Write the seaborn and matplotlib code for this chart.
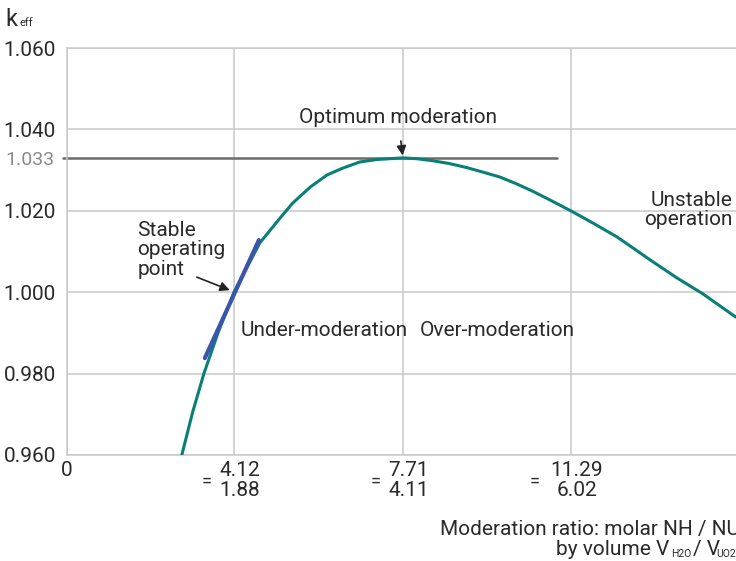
import numpy as np
import pandas as pd
import matplotlib
matplotlib.use('Agg')
import matplotlib.pyplot as plt
import matplotlib.transforms as mtransforms
import seaborn as sns

# k_eff curve (moderation ratio, molar NH/NU)
ratio = [3.01, 3.24, 3.48, 3.78, 4.12, 4.67, 5.10, 5.37, 5.74, 6.10, 6.44, 6.80,
         7.16, 7.71, 8.01, 8.35, 8.71, 9.08, 9.42, 9.78, 10.14, 10.48, 10.84,
         11.29, 11.76, 12.27, 12.61, 12.97, 13.55, 14.10, 14.80]
keff = [0.960, 0.9705, 0.980, 0.9900, 1.000, 1.0121, 1.0182, 1.0219, 1.0258, 1.0288,
        1.0305, 1.0320, 1.0326, 1.0330, 1.0328, 1.0323, 1.0316, 1.0306, 1.0295,
        1.0283, 1.0266, 1.0248, 1.0227, 1.0200, 1.0170, 1.0136, 1.0109, 1.0080,
        1.0035, 0.9996, 0.9939]

# tangent at the stable operating point
tan_x = [3.50, 4.65]
tan_y = [0.9838, 1.0128]

k_opt = 1.033
x_ticks = [4.12, 7.71, 11.29]
x_vol = ['1.88', '4.11', '6.02']
y_ticks = [0.960, 0.980, 1.000, 1.020, 1.040, 1.060]

curve = pd.DataFrame({'ratio': ratio, 'keff': keff})
tangent = pd.DataFrame({'ratio': tan_x, 'keff': tan_y})

sns.set_theme(style='whitegrid')
plt.rcParams['font.family'] = ['Roboto', 'DejaVu Sans']
txt = '#2a2a2a'
grid_c = '#c9c9c9'
fs = 15

fig = plt.figure(figsize=(7.36, 5.61), dpi=100)
ax = fig.add_axes([67 / 736, 1 - 455 / 561, 672 / 736, 407 / 561])

sns.lineplot(curve, x='ratio', y='keff', ax=ax, color='#0a7f78', linewidth=2.2,
             sort=False, zorder=3)
sns.lineplot(tangent, x='ratio', y='keff', ax=ax, color='#3b55a8', linewidth=3,
             zorder=4)
ax.plot([0.48, 11.0], [k_opt, k_opt], color='#6b6b6b', linewidth=1.8,
        clip_on=False, zorder=2)

ax.set_xlim(0.566, 14.87)
ax.set_ylim(0.960, 1.060)
ax.set_xticks([0.566] + x_ticks)
ax.set_xticklabels(['0'] + [f'{a:.2f}\n{b}' for a, b in zip(x_ticks, x_vol)])
ax.set_yticks(y_ticks)
ax.set_yticklabels([f'{v:.3f}' for v in y_ticks])
ax.set_yticks([k_opt], minor=True)
ax.set_yticklabels([f'{k_opt:.3f}'], minor=True)
ax.tick_params(axis='y', which='major', length=0, pad=8, labelsize=fs, labelcolor=txt)
ax.tick_params(axis='y', which='minor', length=0, pad=9, labelsize=14, labelcolor='#8a8a8a')
ax.tick_params(axis='x', length=0, pad=4, labelsize=fs, labelcolor=txt)
shift = mtransforms.ScaledTranslation(6 / 100, 0, fig.dpi_scale_trans)
for lab in ax.get_xticklabels()[1:]:
    lab.set_transform(lab.get_transform() + shift)
    lab.set_linespacing(1.1)
ax.grid(True, which='major', color=grid_c, linewidth=1.1)
ax.grid(False, which='minor')
for s in ax.spines.values():
    s.set_color(grid_c)
    s.set_linewidth(1.1)
ax.set_xlabel('')
ax.set_ylabel('')

for xt in x_ticks:
    ax.annotate('=', xy=(xt, 0), xycoords=('data', 'axes fraction'),
                xytext=(-27 if xt < 10 else -36, -27), textcoords='offset pixels',
                ha='center', va='center', fontsize=13, color=txt)

ax.annotate('Optimum moderation', xy=(7.71, 1.0336), xytext=(7.61, 1.043),
            ha='center', va='center', fontsize=fs, color=txt,
            arrowprops=dict(arrowstyle='-|>', color='#222222', lw=1.2,
                            shrinkA=8, shrinkB=0, mutation_scale=14))
ax.annotate('', xy=(4.03, 1.0005), xytext=(3.33, 1.0037),
            arrowprops=dict(arrowstyle='-|>', color='#222222', lw=1.2,
                            shrinkA=0, shrinkB=0, mutation_scale=14))
ax.text(2.06, 1.0104, 'Stable\noperating\npoint', ha='left', va='center',
        fontsize=fs, color=txt, linespacing=1.05)
ax.text(4.27, 0.9907, 'Under-moderation', ha='left', va='center', fontsize=fs, color=txt)
ax.text(8.08, 0.9907, 'Over-moderation', ha='left', va='center', fontsize=fs, color=txt)
ax.text(14.74, 1.0202, 'Unstable\noperation', ha='right', va='center',
        fontsize=fs, color=txt, linespacing=1.0)

fig.text(5 / 736, 1 - 26 / 561, 'k', fontsize=17, color=txt, ha='left', va='baseline')
fig.text(20 / 736, 1 - 26 / 561, 'eff', fontsize=8, color=txt, ha='left', va='baseline')

# x axis caption, second line built piece by piece for the small subscripts
fig.text(440 / 736, 1 - 535 / 561, 'Moderation ratio: molar NH / NU', ha='left',
         va='baseline', fontsize=fs, color=txt)
y2 = 1 - 555 / 561
ys = 1 - 557 / 561
fig.text(556 / 736, y2, 'by volume V', ha='left', va='baseline', fontsize=fs, color=txt)
fig.text(671 / 736, ys, 'H2O', ha='left', va='baseline', fontsize=7.5, color=txt)
fig.text(693 / 736, y2, '/ V', ha='left', va='baseline', fontsize=fs, color=txt)
fig.text(716 / 736, ys, 'UO2', ha='left', va='baseline', fontsize=7.5, color=txt)

fig.savefig('out.png', dpi=100)
